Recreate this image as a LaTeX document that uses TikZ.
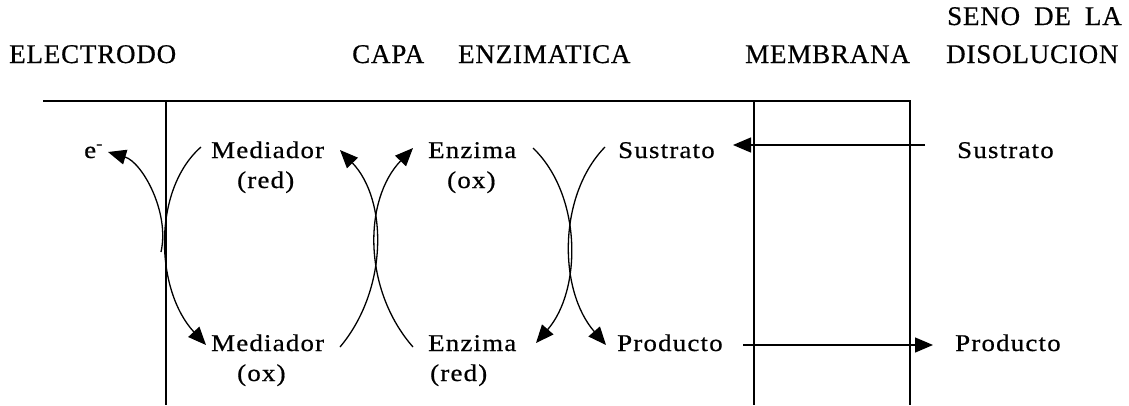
\documentclass[tikz,border=0pt]{standalone}
\usepackage{fontspec}
\setmainfont{Liberation Serif}
\newfontfamily\bodyfont[LetterSpace=5,FakeStretch=1.12,FakeBold=0.6]{Liberation Serif}
\newfontfamily\headfont[LetterSpace=3,FakeBold=0.6]{Liberation Serif}
\usetikzlibrary{arrows.meta}
\begin{document}
\begin{tikzpicture}[x=1pt,y=-1pt,
  lbl/.style={inner sep=0pt,anchor=base west,font=\bodyfont\fontsize{24}{26}\selectfont},
  hdr/.style={inner sep=0pt,anchor=base west,font=\headfont\fontsize{27}{29}\selectfont},
  wall/.style={line width=1.8pt},
  arc/.style={line width=1.3pt,-{Triangle[length=18pt,width=15pt]}}]
\useasboundingbox (0,0) rectangle (1129,405);
% headers
\node[hdr] (helec) at (9,63) {ELECTRODO};
\node[hdr] (hcapa) at (352,63) {CAPA\hspace{34pt}ENZIMATICA};
\node[hdr] (hmem) at (745,63) {MEMBRANA};
\node[hdr] (hseno) at (947,25) {SENO\hspace{14pt}DE\hspace{14pt}LA};
\node[hdr] (hdis) at (946,63) {DISOLUCION};
% walls
\coordinate (tl) at (43,101);
\coordinate (tr) at (911,101);
\coordinate (e1t) at (166,100);
\coordinate (e1b) at (166,405);
\coordinate (m1t) at (754,100);
\coordinate (m1b) at (754,405);
\coordinate (m2t) at (910,101);
\coordinate (m2b) at (910,405);
\draw[wall] (tl) -- (tr);
\draw[wall] (e1t) -- (e1b);
\draw[wall] (m1t) -- (m1b);
\draw[wall] (m2t) -- (m2b);
% labels
\node[lbl] (elec) at (84,158) {e\textsuperscript{-}};
\node[lbl] (medred) at (211,158) {Mediador};
\node[lbl] (medredl) at (237,188) {(red)};
\node[lbl] (enzox) at (428,158) {Enzima};
\node[lbl] (enzoxl) at (447,188) {(ox)};
\node[lbl] (sus) at (618,158) {Sustrato};
\node[lbl] (susr) at (957,158) {Sustrato};
\node[lbl] (medox) at (211,351) {Mediador};
\node[lbl] (medoxl) at (237,381) {(ox)};
\node[lbl] (enzred) at (428,351) {Enzima};
\node[lbl] (enzredl) at (430,381) {(red)};
\node[lbl] (prod) at (617,351) {Producto};
\node[lbl] (prodr) at (955,351) {Producto};
% arc end points
\coordinate (a1s) at (201,147);
\coordinate (a1e) at (206,345);
\coordinate (a2s) at (161,252);
\coordinate (a2e) at (108,152);
\coordinate (b1s) at (340,347);
\coordinate (b1e) at (340,150);
\coordinate (b2s) at (413,347);
\coordinate (b2e) at (413,148);
\coordinate (c1s) at (533,148);
\coordinate (c1e) at (536,343);
\coordinate (c2s) at (605,147);
\coordinate (c2e) at (606,345);
% arcs
\draw[arc] (a1s) .. controls (152,190) and (155,290) .. (a1e);
\draw[arc] (a2s) .. controls (170,212) and (142,162) .. (a2e);
\draw[arc] (b1s) .. controls (388,290) and (388,200) .. (b1e);
\draw[arc] (b2s) .. controls (363,290) and (363,200) .. (b2e);
\draw[arc] (c1s) .. controls (582,195) and (582,290) .. (c1e);
\draw[arc] (c2s) .. controls (558,195) and (558,290) .. (c2e);
% straight arrows
\coordinate (sst) at (925,145);
\coordinate (sen) at (733,145);
\coordinate (pst) at (743,345);
\coordinate (pen) at (933,345);
\draw[arc] (sst) -- (sen);
\draw[arc] (pst) -- (pen);
\end{tikzpicture}
\end{document}
